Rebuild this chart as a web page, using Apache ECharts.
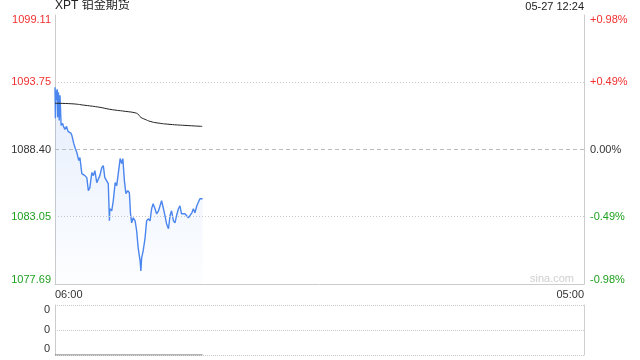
<!DOCTYPE html>
<html>
<head>
<meta charset="utf-8">
<script src="https://cdn.jsdelivr.net/npm/echarts@6/dist/echarts.min.js"></script>
<style>
html,body{margin:0;padding:0;background:#fff;}
#c{width:640px;height:360px;}
</style>
</head>
<body>
<div id="c"></div>
<script>
// ---- data (minutes after 06:00, price) ----
var priceMinutes = [0,1,2,4,6,7,9,11,13,15,16,20,22,26,30,34,38,42,44,49,53,57,62,65,70,74,78,83,87,91,96,100,104,109,113,117,122,126,130,135,139,142,143,148,152,157,161,165,170,174,177,181,185,190,194,197,200,204,209,213,217,222,224,226,230,235,239,243,248,252,256,261,265,270,274,278,283,287,291,296,300,304,309,313,317,322,326,330,335,339,344,348,352,357,361,365,370,374,378,383,385];
var priceValues = [1093.36,1090.88,1093.12,1092.32,1093.20,1090.96,1092.96,1090.72,1092.72,1091.12,1090.32,1090.48,1090.24,1090.00,1090.24,1089.84,1089.92,1089.68,1089.52,1088.88,1088.48,1088.16,1087.52,1087.76,1086.48,1086.56,1086.32,1086.16,1085.12,1085.36,1086.56,1086.32,1086.72,1085.76,1085.68,1086.32,1086.96,1087.12,1086.16,1086.08,1085.68,1082.72,1083.68,1083.52,1084.32,1085.76,1085.52,1086.48,1087.68,1087.28,1087.68,1085.92,1084.88,1085.12,1084.96,1083.28,1082.56,1082.96,1082.72,1081.93,1080.57,1079.53,1078.73,1079.77,1080.33,1081.37,1082.72,1082.88,1082.72,1083.68,1084.08,1083.68,1083.28,1083.52,1083.92,1084.32,1083.68,1083.12,1082.49,1082.09,1083.12,1083.52,1082.72,1082.56,1083.12,1083.68,1083.92,1083.28,1083.36,1083.28,1083.36,1082.96,1082.88,1083.36,1083.68,1083.36,1083.92,1083.92,1084.48,1084.56,1084.48];
var avgMinutes = [0,44,78,117,143,183,209,217,224,235,248,266,300,339,384];
var avgValues = [1092.08,1092.04,1091.92,1091.76,1091.60,1091.44,1091.32,1091.20,1090.96,1090.80,1090.64,1090.52,1090.40,1090.32,1090.24];
var volMinutes = [0,385];
var volValues = [0,0];
var priceTickLabels = ['1077.69','1083.05','1088.40','1093.75','1099.11'];
var pctTickLabels = ['-0.98%','-0.49%','0.00%','+0.49%','+0.98%'];
var timeLabels = ['06:00','05:00'];
var volTickLabels = ['0','0','0'];
var titleText = 'XPT 铂金期货';
var stampText = '05-27 12:24';

var P_MIN = 1077.69, P_MAX = 1099.11, P_INT = 5.355, BASE = 1088.40;

function pairs(xs, ys){ return xs.map(function(x,i){ return [x, ys[i]]; }); }

var FONT = 'Arial, "Liberation Sans", "Noto Sans CJK SC", sans-serif';
var RED = '#f03030', GREEN = '#20a020', DARK = '#333333';
var BORDER = '#cccccc';

function priceRich(){
  return {
    hi:{color:RED, fontSize:11, fontFamily:FONT, padding:[10,0,0,0]},
    r:{color:RED, fontSize:11, fontFamily:FONT},
    k:{color:DARK, fontSize:11, fontFamily:FONT},
    g:{color:GREEN, fontSize:11, fontFamily:FONT},
    lo:{color:GREEN, fontSize:11, fontFamily:FONT, padding:[0,0,8,0]}
  };
}
var styleNames = ['lo','g','k','r','hi'];
function idxOf(v){ return Math.round((v - P_MIN)/P_INT); }

var chart = echarts.init(document.getElementById('c'), null, {renderer:'canvas'});
chart.setOption({
  animation:false,
  backgroundColor:'#ffffff',
  textStyle:{fontFamily:FONT},
  grid:[
    {left:55, right:56, top:15, height:269},
    {left:55, right:56, top:305, height:50}
  ],
  graphic:[
    {type:'text', left:55, top:0, style:{text:titleText, fill:'#222', font:'12px ' + FONT}},
    {type:'text', right:56, top:1, style:{text:stampText, fill:'#222', font:'11px ' + FONT}},
    {type:'text', right:66, top:273, style:{text:'sina.com', fill:'#cfcfcf', font:'11px ' + FONT}}
  ],
  xAxis:[
    {type:'value', gridIndex:0, min:0, max:1380, interval:1380,
     axisLine:{show:true, lineStyle:{color:BORDER, width:1}},
     axisTick:{show:false}, splitLine:{show:false},
     axisLabel:{color:DARK, fontSize:11, fontFamily:FONT, margin:5,
       alignMinLabel:'left', alignMaxLabel:'right',
       formatter:function(v){ return v <= 0 ? timeLabels[0] : timeLabels[1]; }}},
    {type:'value', gridIndex:1, min:0, max:1380, interval:1380,
     axisLine:{show:false}, axisTick:{show:false}, axisLabel:{show:false}, splitLine:{show:false}}
  ],
  yAxis:[
    {type:'value', gridIndex:0, position:'left', min:P_MIN, max:P_MAX, interval:P_INT,
     axisLine:{show:true, lineStyle:{color:BORDER, width:1}},
     axisTick:{show:false}, splitLine:{show:false},
     axisLabel:{margin:4, rich:priceRich(),
       formatter:function(v){ var i = idxOf(v); return '{' + styleNames[i] + '|' + priceTickLabels[i] + '}'; }}},
    {type:'value', gridIndex:0, position:'right', min:P_MIN, max:P_MAX, interval:P_INT,
     axisLine:{show:true, lineStyle:{color:BORDER, width:1}},
     axisTick:{show:false}, splitLine:{show:false},
     axisLabel:{margin:6, rich:priceRich(),
       formatter:function(v){ var i = idxOf(v); return '{' + styleNames[i] + '|' + pctTickLabels[i] + '}'; }}},
    {type:'value', gridIndex:1, position:'left', min:0, max:2, interval:1,
     axisLine:{show:true, lineStyle:{color:BORDER, width:1}},
     axisTick:{show:false},
     splitLine:{show:true, lineStyle:{color:'#c8c8c8', type:[1,1], width:1}},
     axisLabel:{margin:5,
       rich:{
         t:{color:DARK, fontSize:11, fontFamily:FONT, padding:[10,0,0,0]},
         m:{color:DARK, fontSize:11, fontFamily:FONT},
         b:{color:DARK, fontSize:11, fontFamily:FONT, padding:[0,0,12,0]}
       },
       formatter:function(v){ var i = Math.round(v); var n = ['b','m','t'][i]; return '{' + n + '|' + volTickLabels[i] + '}'; }}},
    {type:'value', gridIndex:1, position:'right', min:0, max:2, interval:1,
     axisLine:{show:true, lineStyle:{color:'#d0d0d0', width:1}},
     axisTick:{show:false}, axisLabel:{show:false}, splitLine:{show:false}}
  ],
  series:[
    {type:'line', name:'price', xAxisIndex:0, yAxisIndex:0, data:pairs(priceMinutes, priceValues),
     showSymbol:false, symbol:'none', smooth:false,
     lineStyle:{color:'#4a86ee', width:1.4},
     areaStyle:{origin:'start', color:new echarts.graphic.LinearGradient(0,0,0,1,[
       {offset:0, color:'rgba(74,134,238,0.20)'},
       {offset:1, color:'rgba(74,134,238,0.02)'}])},
     markLine:{silent:true, symbol:['none','none'], label:{show:false},
       data:[
         {yAxis:BASE + P_INT, lineStyle:{color:'#c8c8c8', type:[1,2], width:1}},
         {yAxis:BASE, lineStyle:{color:'#bbbbbb', type:[4,3], width:1}},
         {yAxis:BASE - P_INT, lineStyle:{color:'#c8c8c8', type:[1,2], width:1}}
       ]},
     z:3},
    {type:'line', name:'avg', xAxisIndex:0, yAxisIndex:0, data:pairs(avgMinutes, avgValues),
     showSymbol:false, symbol:'none', smooth:true,
     lineStyle:{color:'#222222', width:1}, z:4},
    {type:'line', name:'vol', xAxisIndex:1, yAxisIndex:2, data:pairs(volMinutes, volValues),
     showSymbol:false, symbol:'none',
     lineStyle:{color:'#666666', width:1}, z:4}
  ]
});
</script>
</body>
</html>
